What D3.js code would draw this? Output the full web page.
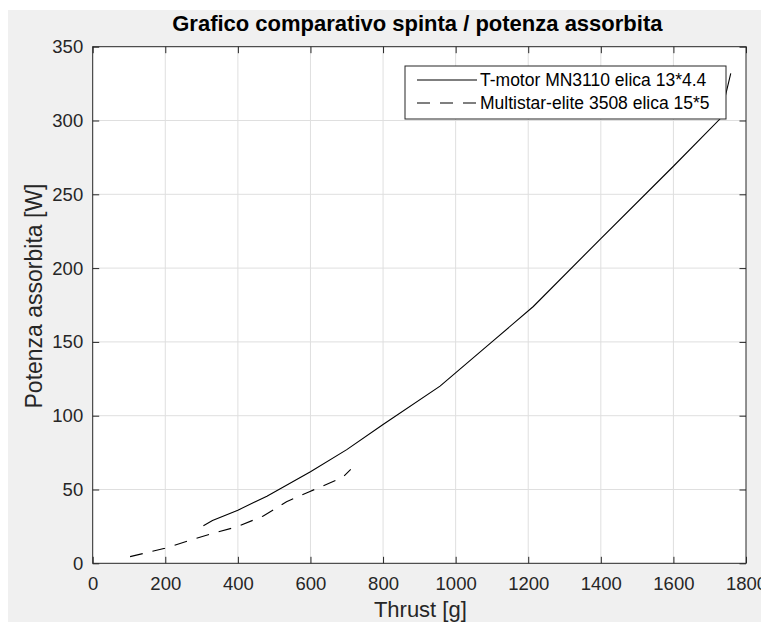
<!DOCTYPE html>
<html>
<head>
<meta charset="utf-8">
<script src="https://cdn.jsdelivr.net/npm/d3@7"></script>
<style>
  html, body { margin: 0; padding: 0; background: #ffffff; }
  svg { display: block; }
  text { font-family: "Liberation Sans", Arial, Helvetica, sans-serif; }
</style>
</head>
<body>
<svg id="chart" width="761" height="622"></svg>
<script>
// ---- data ----
const tmotorThrust = [305, 330, 400, 480, 600, 700, 800, 957, 1100, 1214, 1400, 1600, 1728, 1758];
const tmotorPower  = [25.5, 29, 36, 45.5, 62, 77, 94, 120, 150, 174, 220, 269, 301, 332];
const multiThrust  = [103, 199, 277, 332, 398, 470, 534, 597, 672, 690, 711];
const multiPower   = [4.5, 10.2, 16.3, 20.3, 24.8, 32, 41.7, 48.5, 56.4, 58.5, 63.7];
const xTicks = [0, 200, 400, 600, 800, 1000, 1200, 1400, 1600, 1800];
const yTicks = [0, 50, 100, 150, 200, 250, 300, 350];
const seriesNames = ["T-motor MN3110 elica 13*4.4", "Multistar-elite 3508 elica 15*5"];
const titleText = "Grafico comparativo spinta / potenza assorbita";
const xLabel = "Thrust [g]";
const yLabel = "Potenza assorbita [W]";

// ---- layout ----
const svg = d3.select("#chart");
const L = 92.7, R = 746, T = 46.7, B = 563.3;
const axisColor = "#262626";

svg.append("rect").attr("x", 8).attr("y", 10).attr("width", 761 - 8).attr("height", 622 - 10)
  .attr("fill", "#f0f0f0");

const x = d3.scaleLinear().domain([0, 1800]).range([L, R]);
const y = d3.scaleLinear().domain([0, 350]).range([B, T]);

// plot area
svg.append("rect").attr("x", L).attr("y", T).attr("width", R - L).attr("height", B - T)
  .attr("fill", "#ffffff");

// grid
const grid = svg.append("g");
grid.selectAll("line.gx").data(xTicks.slice(1, -1)).enter().append("line")
  .attr("x1", d => x(d)).attr("x2", d => x(d)).attr("y1", T).attr("y2", B)
  .attr("stroke", "#dfdfdf").attr("stroke-width", 1);
grid.selectAll("line.gy").data(yTicks.slice(1, -1)).enter().append("line")
  .attr("y1", d => y(d)).attr("y2", d => y(d)).attr("x1", L).attr("x2", R)
  .attr("stroke", "#dfdfdf").attr("stroke-width", 1);

// lines
const tData = tmotorThrust.map((t, i) => [t, tmotorPower[i]]);
const mData = multiThrust.map((t, i) => [t, multiPower[i]]);
const line = d3.line().x(d => x(d[0])).y(d => y(d[1]));

svg.append("path").attr("d", line(tData)).attr("fill", "none")
  .attr("stroke", "#000").attr("stroke-width", 1.1);
svg.append("path").attr("d", line(mData)).attr("fill", "none")
  .attr("stroke", "#000").attr("stroke-width", 1.1).attr("stroke-dasharray", "13,10");

// axes (inward ticks, box)
const tickLen = 6.5;
const fontTick = 18.5;
const xAxisB = d3.axisBottom(x).tickValues(xTicks).tickSize(-tickLen).tickPadding(13.6).tickFormat(d3.format("d"));
const xAxisT = d3.axisTop(x).tickValues(xTicks).tickSize(-tickLen).tickFormat("");
const yAxisL = d3.axisLeft(y).tickValues(yTicks).tickSize(-tickLen).tickPadding(9.5).tickFormat(d3.format("d"));
const yAxisR = d3.axisRight(y).tickValues(yTicks).tickSize(-tickLen).tickFormat("");

const gB = svg.append("g").attr("transform", `translate(0,${B})`).call(xAxisB);
const gT = svg.append("g").attr("transform", `translate(0,${T})`).call(xAxisT);
const gL = svg.append("g").attr("transform", `translate(${L},0)`).call(yAxisL);
const gR = svg.append("g").attr("transform", `translate(${R},0)`).call(yAxisR);
[gB, gT, gL, gR].forEach(g => {
  g.selectAll(".domain").remove();
  g.selectAll(".tick line").attr("stroke", axisColor).attr("stroke-width", 1);
  g.selectAll(".tick text").attr("fill", axisColor).style("font-size", fontTick + "px")
    .style("font-family", '"Liberation Sans", Arial, sans-serif');
});
// box
svg.append("rect").attr("x", L).attr("y", T).attr("width", R - L).attr("height", B - T)
  .attr("fill", "none").attr("stroke", axisColor).attr("stroke-width", 1);

// legend
const lg = svg.append("g");
const lgX = 405, lgY = 66, lgW = 321, lgH = 53;
lg.append("rect").attr("x", lgX).attr("y", lgY).attr("width", lgW).attr("height", lgH)
  .attr("fill", "#fff").attr("stroke", axisColor).attr("stroke-width", 1);
const rows = [{ name: seriesNames[0], dash: null, yy: 80 }, { name: seriesNames[1], dash: "13,10", yy: 103 }];
rows.forEach(r => {
  lg.append("line").attr("x1", 417).attr("x2", 477).attr("y1", r.yy).attr("y2", r.yy)
    .attr("stroke", "#000").attr("stroke-width", 1.1).attr("stroke-dasharray", r.dash);
  lg.append("text").attr("x", 480).attr("y", r.yy).attr("dy", "0.35em")
    .style("font-size", "17.5px").attr("fill", "#000").text(r.name);
});

// title and labels
svg.append("text").attr("x", (L + R) / 2 - 2).attr("y", 31).attr("text-anchor", "middle")
  .style("font-size", "22px").style("font-weight", "bold").attr("fill", "#000").text(titleText);
svg.append("text").attr("x", (L + R) / 2 + 1).attr("y", 617).attr("text-anchor", "middle")
  .style("font-size", "22px").attr("fill", axisColor).text(xLabel);
svg.append("text").attr("transform", `translate(42,296) rotate(-90)`).attr("text-anchor", "middle")
  .style("font-size", "23px").attr("fill", axisColor).text(yLabel);
</script>
</body>
</html>
